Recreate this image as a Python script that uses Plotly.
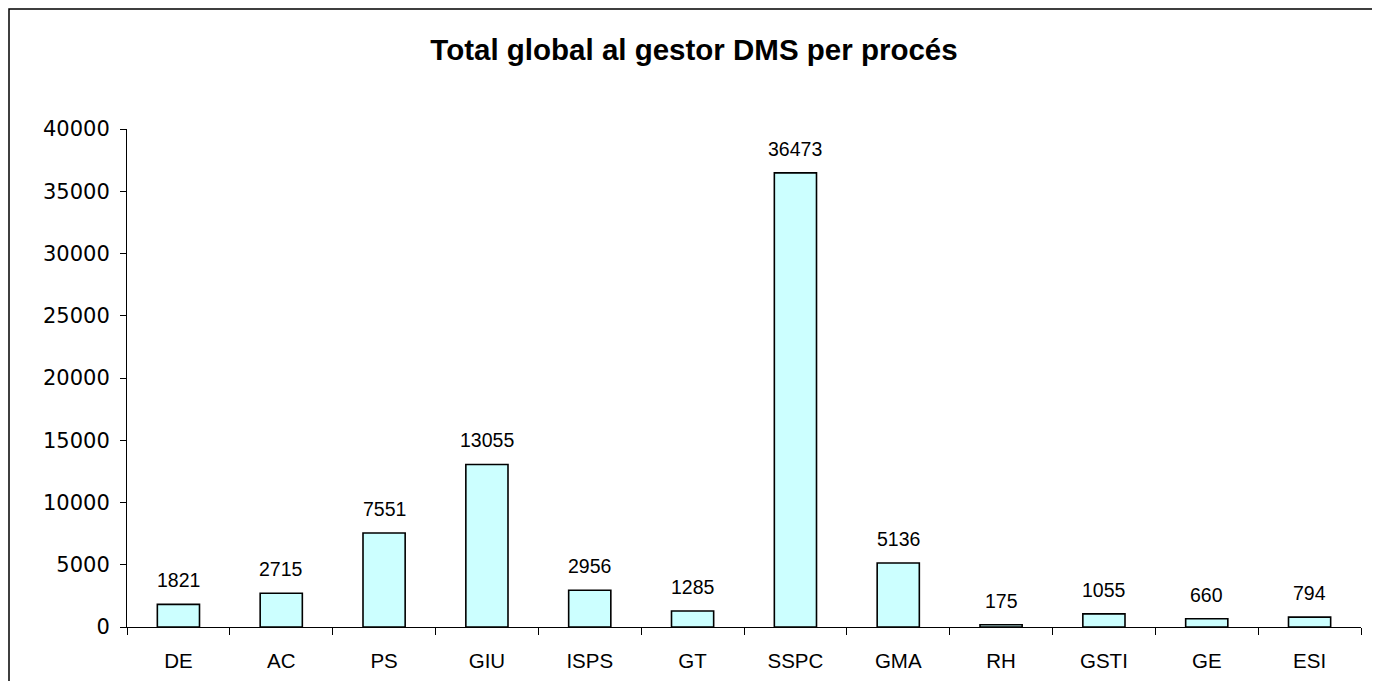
import plotly.graph_objects as go

categories = ["DE", "AC", "PS", "GIU", "ISPS", "GT", "SSPC", "GMA", "RH", "GSTI", "GE", "ESI"]
values = [1821, 2715, 7551, 13055, 2956, 1285, 36473, 5136, 175, 1055, 660, 794]
y_ticks = [0, 5000, 10000, 15000, 20000, 25000, 30000, 35000, 40000]
y_tick_labels = [str(v) for v in y_ticks]

# page is offset by the 8px body margin
OFF = 8
W, H = 1380 - OFF, 681 - OFF
L, R, T, B = 127 - OFF, 19, 129 - OFF, 54
pw, ph = W - L - R, H - T - B

fig = go.Figure()
fig.add_trace(go.Bar(
    x=categories, y=values,
    marker=dict(color="#CCFFFF", line=dict(color="black", width=1.6)),
    width=0.41,
))

for c, v in zip(categories, values):
    fig.add_annotation(x=c, y=v, text=str(v), showarrow=False,
                       yanchor="bottom", yshift=11,
                       font=dict(family="Liberation Sans, Arial", size=19.5, color="black"))

def px_x(p):
    return (p - OFF - L) / pw

def px_y(p):
    return (H - B - (p - OFF)) / ph

fig.add_shape(type="rect", xref="paper", yref="paper",
              x0=px_x(9), x1=px_x(1373), y0=px_y(700), y1=px_y(9),
              line=dict(color="black", width=1.5), fillcolor="rgba(0,0,0,0)", layer="below")

fig.update_layout(
    width=W, height=H,
    margin=dict(l=L, r=R, t=T, b=B, autoexpand=False),
    paper_bgcolor="white", plot_bgcolor="white",
    showlegend=False,
    bargap=0.59,
    title=dict(text="<b>Total global al gestor DMS per procés</b>",
               x=(694 - OFF) / W, xref="container", xanchor="center",
               y=1 - (50 - OFF) / H, yanchor="middle",
               font=dict(family="Liberation Sans, Arial", size=29.5, color="black")),
    font=dict(family="Liberation Sans, Arial", size=20, color="black"),
    xaxis=dict(showline=True, linecolor="black", linewidth=1,
               ticks="outside", ticklen=7, tickcolor="black",
               tickson="boundaries", showgrid=False, zeroline=False,
               automargin=False, ticklabelstandoff=15,
               tickfont=dict(family="Liberation Sans, Arial", size=20.5)),
    yaxis=dict(range=[0, 40000], tickvals=y_ticks, ticktext=y_tick_labels,
               showline=True, linecolor="black", linewidth=1,
               ticks="outside", ticklen=6, tickcolor="black",
               showgrid=False, zeroline=False, automargin=False,
               tickfont=dict(family="DejaVu Sans", size=21), ticklabelstandoff=6),
)

fig.write_html("out.html")
